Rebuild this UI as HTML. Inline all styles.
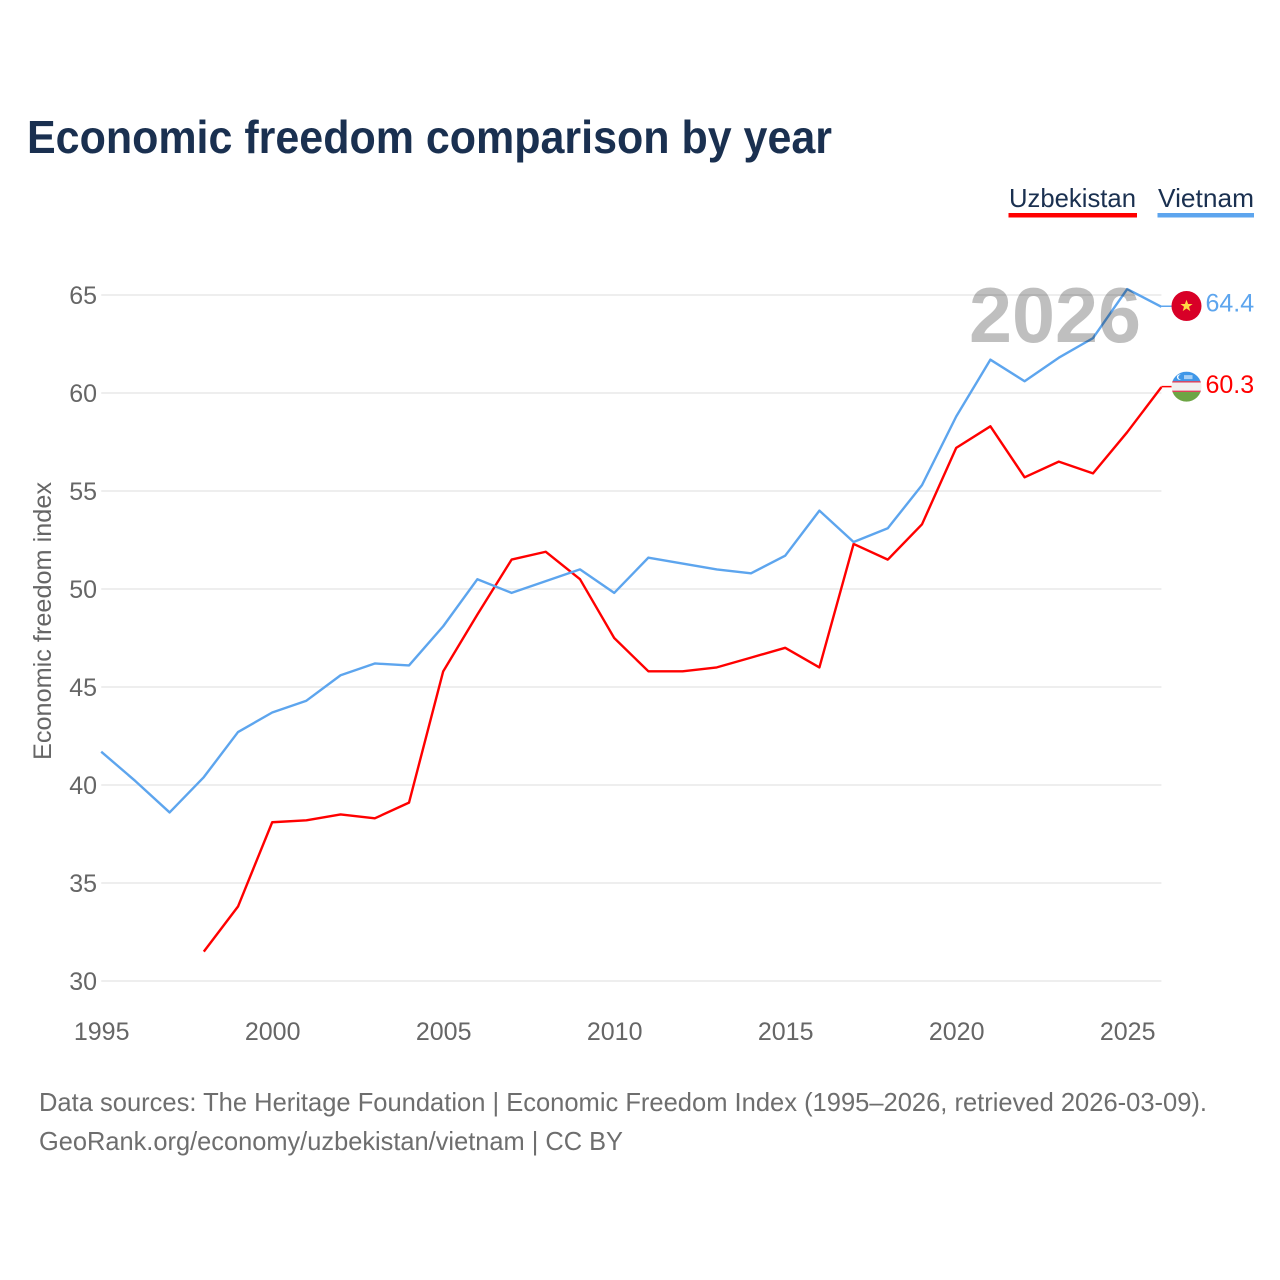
<!DOCTYPE html>
<html lang="en">
<head>
<meta charset="utf-8">
<title>Economic freedom comparison by year</title>
<style>
  html, body { margin: 0; padding: 0; background: #fff; }
  svg { display: block; font-family: "Liberation Sans", sans-serif; }
</style>
</head>
<body>
<svg id="chart" xmlns="http://www.w3.org/2000/svg" width="1280" height="1280" viewBox="0 0 1280 1280">
  <defs>
    <clipPath id="flag-clip-vn"><circle id="clip-vn" r="15" cx="0" cy="0"/></clipPath>
    <clipPath id="flag-clip-uz"><circle id="clip-uz" r="15" cx="0" cy="0"/></clipPath>
  </defs>
  <rect x="0" y="0" width="1280" height="1280" fill="#ffffff"/>
  <text x="27" y="153" font-size="46" font-weight="700" fill="#1a3050" textLength="805" lengthAdjust="spacingAndGlyphs">Economic freedom comparison by year</text>

  <g>
    <g>
      <text x="1009" y="207" font-size="26" fill="#1a3050" textLength="127" lengthAdjust="spacingAndGlyphs">Uzbekistan</text>
      <rect x="1008.5" y="213" width="128.5" height="4.5" fill="#ff0000"/>
    </g>
    <g>
      <text x="1158" y="207" font-size="26" fill="#1a3050" textLength="96" lengthAdjust="spacingAndGlyphs">Vietnam</text>
      <rect x="1157.5" y="213" width="96.5" height="4.5" fill="#5da5ee"/>
    </g>
  </g>

  <g id="grid"></g>
  <g id="y-ticks"></g>
  <g id="x-ticks"></g>
  <text transform="translate(51,621) rotate(-90)" text-anchor="middle" font-size="25" fill="#666666" textLength="278" lengthAdjust="spacingAndGlyphs">Economic freedom index</text>

  <g id="series"></g>
  <g id="end-labels"></g>

  <text x="969" y="342" font-size="78" font-weight="700" fill="#000000" fill-opacity="0.25" textLength="172" lengthAdjust="spacingAndGlyphs">2026</text>

  <text x="39" y="1111" font-size="26" fill="#6e6e6e" textLength="1168" lengthAdjust="spacingAndGlyphs">Data sources: The Heritage Foundation | Economic Freedom Index (1995–2026, retrieved 2026-03-09).</text>
  <text x="39" y="1150" font-size="26" fill="#6e6e6e" textLength="584" lengthAdjust="spacingAndGlyphs">GeoRank.org/economy/uzbekistan/vietnam | CC BY</text>
</svg>

<script>
const years = [1995,1996,1997,1998,1999,2000,2001,2002,2003,2004,2005,2006,2007,2008,2009,2010,2011,2012,2013,2014,2015,2016,2017,2018,2019,2020,2021,2022,2023,2024,2025,2026];
const vietnamValues = [41.7,40.2,38.6,40.4,42.7,43.7,44.3,45.6,46.2,46.1,48.1,50.5,49.8,50.4,51.0,49.8,51.6,51.3,51.0,50.8,51.7,54.0,52.4,53.1,55.3,58.8,61.7,60.6,61.8,62.8,65.3,64.4];
const uzbekistanValues = [null,null,null,31.5,33.8,38.1,38.2,38.5,38.3,39.1,45.8,48.7,51.5,51.9,50.5,47.5,45.8,45.8,46.0,46.5,47.0,46.0,52.3,51.5,53.3,57.2,58.3,55.7,56.5,55.9,58.0,60.3];
const yTickValues = [30,35,40,45,50,55,60,65];
const xTickValues = [1995,2000,2005,2010,2015,2020,2025];

const SVGNS = 'http://www.w3.org/2000/svg';
const plotLeft = 101.2, plotRight = 1161.4;
const yearMin = 1995, yearMax = 2026;
const yBottom = 981, yTop = 295, valMin = 30, valMax = 65;

function xScale(year) {
  return plotLeft + (year - yearMin) * (plotRight - plotLeft) / (yearMax - yearMin);
}
function yScale(value) {
  return yBottom - (value - valMin) * (yBottom - yTop) / (valMax - valMin);
}
function make(tag, attrs, parent) {
  const el = document.createElementNS(SVGNS, tag);
  for (const k in attrs) el.setAttribute(k, attrs[k]);
  parent.appendChild(el);
  return el;
}
function linePath(values) {
  const parts = [];
  values.forEach(function (v, i) {
    if (v === null) return;
    parts.push((parts.length ? 'L' : 'M') + xScale(years[i]).toFixed(2) + ' ' + yScale(v).toFixed(2));
  });
  return parts.join(' ');
}

const gridGroup = document.getElementById('grid');
const yTickGroup = document.getElementById('y-ticks');
yTickValues.forEach(function (v) {
  const gl = make('line', { x1: plotLeft, x2: plotRight, y1: yScale(v), y2: yScale(v), stroke: '#e9e9e9', 'stroke-width': 1.5 }, gridGroup);
  
  
  const t = make('text', { x: 97, y: yScale(v) + 9, 'text-anchor': 'end', 'font-size': 25, fill: '#666666' }, yTickGroup);
  
  
  t.textContent = String(v);
});

const xTickGroup = document.getElementById('x-ticks');
xTickValues.forEach(function (yr) {
  const t = make('text', { x: xScale(yr) + 0.5, y: 1040, 'text-anchor': 'middle', 'font-size': 25, fill: '#666666' }, xTickGroup);
  
  
  t.textContent = String(yr);
});

const seriesGroup = document.getElementById('series');
const uzLine = make('path', { d: linePath(uzbekistanValues), fill: 'none', stroke: '#ff0000', 'stroke-width': 2.4, 'stroke-linejoin': 'round' }, seriesGroup);


const vnLine = make('path', { d: linePath(vietnamValues), fill: 'none', stroke: '#5da5ee', 'stroke-width': 2.4, 'stroke-linejoin': 'round' }, seriesGroup);



const endGroup = document.getElementById('end-labels');
const lastIndex = years.length - 1;
const flagX = 1186.5;

/* Uzbekistan end marker */
const uzValue = uzbekistanValues[lastIndex];
const uzY = yScale(uzValue);
const uzLead = make('line', { x1: plotRight, x2: flagX, y1: uzY - 0.5, y2: uzY - 0.5, stroke: '#ff0000', 'stroke-width': 1.6 }, endGroup);


const uzFlag = make('g', { transform: 'translate(' + flagX + ',' + (uzY - 0.5) + ')', 'clip-path': 'url(#flag-clip-uz)' }, endGroup);


make('rect', { x: -15, y: -15, width: 30, height: 10, fill: '#3f97e8' }, uzFlag);
make('rect', { x: -15, y: -5, width: 30, height: 10, fill: '#f0f0f0' }, uzFlag);
make('rect', { x: -15, y: -5.5, width: 30, height: 1.4, fill: '#e0405a' }, uzFlag);
make('rect', { x: -15, y: 4, width: 30, height: 1.4, fill: '#e0405a' }, uzFlag);
make('rect', { x: -15, y: 5.4, width: 30, height: 10, fill: '#6da544' }, uzFlag);
make('circle', { cx: -7, cy: -9.5, r: 2.6, fill: '#ffffff' }, uzFlag);
make('circle', { cx: -6, cy: -9.5, r: 2.2, fill: '#3f97e8' }, uzFlag);
make('rect', { x: -2.5, y: -11.5, width: 8.5, height: 4, fill: '#ffffff', 'fill-opacity': 0.55 }, uzFlag);
const uzText = make('text', { x: 1205.5, y: uzY + 6, 'font-size': 25, fill: '#ff0000' }, endGroup);


uzText.textContent = uzValue.toFixed(1);

/* Vietnam end marker */
const vnValue = vietnamValues[lastIndex];
const vnY = yScale(vnValue);
const vnLead = make('line', { x1: plotRight, x2: flagX, y1: vnY - 0.5, y2: vnY - 0.5, stroke: '#5da5ee', 'stroke-width': 1.6 }, endGroup);


const vnFlag = make('g', { transform: 'translate(' + flagX + ',' + (vnY - 0.8) + ')', 'clip-path': 'url(#flag-clip-vn)' }, endGroup);


make('rect', { x: -15, y: -15, width: 30, height: 30, fill: '#d80027' }, vnFlag);
make('polygon', { points: '0,-6.2 1.6,-1.9 6.1,-1.9 2.5,0.8 3.8,5.2 0,2.6 -3.8,5.2 -2.5,0.8 -6.1,-1.9 -1.6,-1.9', fill: '#ffda44' }, vnFlag);
const vnText = make('text', { x: 1205.5, y: vnY + 4.5, 'font-size': 25, fill: '#5da5ee' }, endGroup);


vnText.textContent = vnValue.toFixed(1);
</script>
</body>
</html>
